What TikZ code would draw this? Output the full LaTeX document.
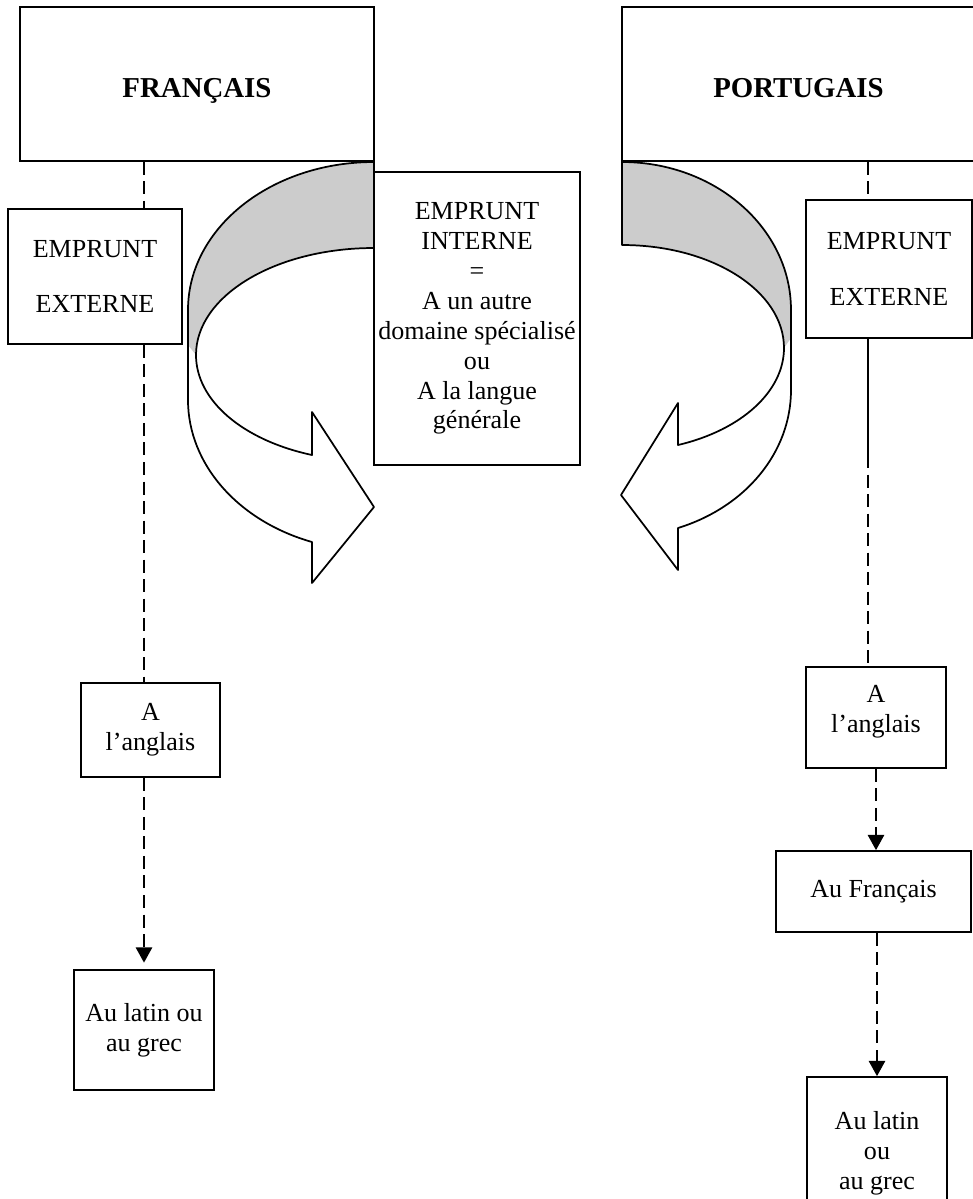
\documentclass[tikz,border=0pt]{standalone}
\usepackage{fontspec}
\setmainfont{Liberation Serif}
\usetikzlibrary{arrows.meta}
\definecolor{backc}{HTML}{CCCCCC}
\newcommand{\pxu}{0.0162cm}
\tikzset{
  boxnode/.style={rectangle, draw=black, line width=0.8pt, fill=white, align=center,
    inner sep=0pt, font=\fontsize{12}{13.8}\selectfont},
  titlenode/.style={boxnode, font=\fontsize{13.3}{16}\selectfont\bfseries,
    text height=12pt, text depth=0pt},
  widenode/.style={boxnode, font=\fontsize{12}{25.4}\selectfont},
  boxsize/.style 2 args={minimum width=#1*\pxu, minimum height=#2*\pxu},
  solidedge/.style={draw=black, line width=0.8pt},
  dashedge/.style={solidedge, dash pattern=on 6pt off 3pt},
  arrowedge/.style={dashedge, -{Triangle[length=7pt, width=7.5pt]}},
  bandfill/.style={fill=backc},
  bandline/.style={draw=black, line width=0.8pt, line join=round},
}
\begin{document}
\begin{tikzpicture}[x=\pxu, y=-\pxu]
  \useasboundingbox (0,0) rectangle (973,1199);
  \clip (0,0) rectangle (973,1199);
  % curved arrow, left
  \fill[bandfill] (374,162) .. controls (271,162) and (188,228) .. (188,310) -- (188,345)
    -- (196,355) .. controls (196,296) and (275,248) .. (374,248) -- cycle;
  \draw[bandline] (374,162) .. controls (271,162) and (188,228) .. (188,310) -- (188,400)
    .. controls (188,464) and (238,521) .. (312,542) -- (312,583) -- (374,507) -- (312,412)
    -- (312,455) .. controls (242,440) and (196,400) .. (196,355)
    .. controls (196,296) and (275,248) .. (374,248) -- cycle;
  % curved arrow, right
  \fill[bandfill] (622,162) .. controls (715,162) and (791,228) .. (791,310) -- (791,338)
    -- (784,348) .. controls (784,291) and (712,245) .. (622,245) -- cycle;
  \draw[bandline] (622,162) .. controls (715,162) and (791,228) .. (791,310) -- (791,390)
    .. controls (791,452) and (746,507) .. (678,528) -- (678,570) -- (621,495) -- (678,403)
    -- (678,445) .. controls (742,430) and (784,391) .. (784,348)
    .. controls (784,291) and (712,245) .. (622,245) -- cycle;
  % boxes
  \node[titlenode, boxsize={354}{154}] (fr) at (197,84) {FRANÇAIS};
  \node[titlenode, boxsize={353}{154}] (pt) at (798.5,84) {PORTUGAIS};
  \node[widenode, boxsize={174}{135}] (lext) at (95,276.5) {EMPRUNT\\EXTERNE};
  \node[boxnode, boxsize={206}{293}] (mid) at (477,318.5)
    {EMPRUNT\\INTERNE\\=\\A un autre\\domaine spécialisé\\ou\\A la langue\\générale};
  \node[widenode, boxsize={166}{138}] (rext) at (889,269) {EMPRUNT\\EXTERNE};
  \node[boxnode, boxsize={139}{94}] (lang) at (150.5,730) {A\\l’anglais};
  \node[boxnode, boxsize={140}{101}, text depth=8pt] (rang) at (876,717.5) {A\\l’anglais};
  \node[boxnode, boxsize={195}{81}] (rfr) at (873.5,891.5) {Au Français};
  \node[boxnode, boxsize={140}{120}] (llat) at (144,1030) {Au latin ou\\au grec};
  \node[boxnode, boxsize={140}{153}] (rlat) at (877,1153.5) {Au latin\\ou\\au grec};
  \coordinate (rcol) at (868,0);
  \coordinate (rbreak) at (868,455);
  % links, left column
  \draw[dashedge] (fr.south -| llat.north) -- (lext.north -| llat.north);
  \draw[dashedge] (lext.south -| llat.north) -- (lang.north -| llat.north);
  \draw[arrowedge, shorten >=3pt] (lang.south -| llat.north) -- (llat.north);
  % links, right column
  \draw[dashedge] (pt.south -| rcol) -- (rext.north -| rcol);
  \draw[solidedge] (rext.south -| rcol) -- (rbreak);
  \draw[dashedge] (rbreak) -- (rang.north -| rcol);
  \draw[arrowedge] (rang.south) -- (rfr.north -| rang.south);
  \draw[arrowedge] (rfr.south -| rlat.north) -- (rlat.north);
\end{tikzpicture}
\end{document}
